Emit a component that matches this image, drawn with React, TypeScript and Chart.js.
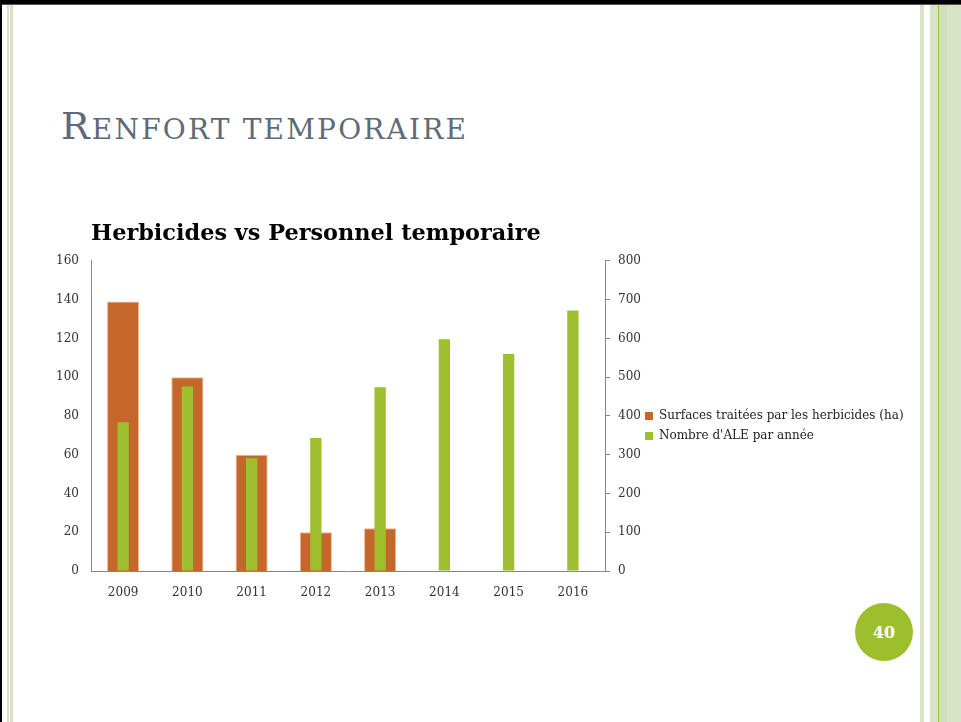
import { useEffect, useRef } from "react";
import { Chart, registerables } from "chart.js";

Chart.register(...registerables);

const categories = ["2009", "2010", "2011", "2012", "2013", "2014", "2015", "2016"];
const surfacesHa = [139, 100, 60, 20, 22, null, null, null];
const nombreAle = [384, 476, 291, 343, 474, 598, 560, 672];
const leftTickMax = 160;
const leftTickStep = 20;
const rightTickMax = 800;
const rightTickStep = 100;

const seriesLabels = ["Surfaces traitées par les herbicides (ha)", "Nombre d'ALE par année"];
const chartTitle = "Herbicides vs Personnel temporaire";

const SERIF = "'DejaVu Serif', serif";
const LEGEND_W = 272;
const LEGEND_SHIFT = 8;

const legendWidthPlugin = {
  id: "legendWidth",
  beforeLayout(chart: any) {
    const lg = chart.legend;
    if (lg && !lg._fixedW) {
      const orig = lg.fit.bind(lg);
      lg.fit = function () {
        orig();
        this.width = LEGEND_W;
      };
      lg._fixedW = true;
    }
  },
  afterLayout(chart: any) {
    const lg = chart.legend;
    if (lg) {
      lg.left -= LEGEND_SHIFT;
      lg.right -= LEGEND_SHIFT;
      lg.top += 1;
      lg.bottom += 1;
    }
  },
};

export default function App() {
  const canvasRef = useRef<HTMLCanvasElement | null>(null);

  useEffect(() => {
    if (!canvasRef.current) return;
    Chart.defaults.font.family = SERIF;
    const axisColor = "#878787";
    const chart = new Chart(canvasRef.current, {
      type: "bar",
      data: {
        labels: categories,
        datasets: [
          {
            label: seriesLabels[0],
            data: surfacesHa,
            yAxisID: "y",
            backgroundColor: "#C5662A",
            borderColor: "#EDB48A",
            borderWidth: 1,
            barPercentage: 0.5,
            categoryPercentage: 1,
            grouped: false,
            order: 2,
          } as any,
          {
            label: seriesLabels[1],
            data: nombreAle,
            yAxisID: "y1",
            backgroundColor: "#9DC02C",
            borderWidth: 0,
            barPercentage: 0.176,
            categoryPercentage: 1,
            grouped: false,
            order: 1,
          } as any,
        ],
      },
      plugins: [legendWidthPlugin as any],
      options: {
        animation: false,
        responsive: false,
        devicePixelRatio: 1,
        layout: { padding: 0 },
        plugins: {
          tooltip: { enabled: false },
          title: {
            display: true,
            text: chartTitle,
            align: "start",
            fullSize: false,
            color: "#000000",
            font: { family: SERIF, size: 22.4, weight: "bold" },
            padding: { top: 11, bottom: 13 },
          },
          legend: {
            position: "right",
            labels: {
              sort: (a: any, b: any) => a.datasetIndex - b.datasetIndex,
              boxWidth: 8,
              boxHeight: 8,
              padding: 8,
              color: "#222222",
              font: { family: SERIF, size: 12 },
              generateLabels: (c: any) =>
                c.data.datasets.map((ds: any, i: number) => ({
                  text: ds.label,
                  fillStyle: ds.backgroundColor,
                  strokeStyle: ds.backgroundColor,
                  lineWidth: 0,
                  hidden: false,
                  datasetIndex: i,
                  fontColor: "#222222",
                })),
            },
          },
        },
        scales: {
          x: {
            grid: { display: false },
            border: { display: true, color: axisColor, width: 1 },
            ticks: { color: "#333333", font: { family: SERIF, size: 12 }, padding: 7 },
            afterFit: (s: any) => {
              s.height = 69;
            },
          },
          y: {
            position: "left",
            min: 0,
            max: leftTickMax,
            grid: { display: false },
            border: { display: true, color: axisColor, width: 1 },
            ticks: { stepSize: leftTickStep, color: "#333333", font: { family: SERIF, size: 12 }, padding: 4 },
            afterFit: (s: any) => {
              s.width = 51;
            },
          },
          y1: {
            position: "right",
            min: 0,
            max: rightTickMax,
            grid: { display: true, drawOnChartArea: false, color: axisColor, tickLength: 5 },
            border: { display: true, color: axisColor, width: 1 },
            ticks: { stepSize: rightTickStep, color: "#333333", font: { family: SERIF, size: 12 }, padding: 8 },
            afterFit: (s: any) => {
              s.width = 40;
            },
          },
        },
      },
    });
    return () => chart.destroy();
  }, []);

  return (
    <div
      style={{
        position: "absolute",
        left: 0,
        top: 0,
        width: 961,
        height: 722,
        overflow: "hidden",
        background: "#ffffff",
      }}
    >
      {/* borders */}
      <div style={{ position: "absolute", left: 0, top: 0, width: 961, height: 4, background: "#000" }} />
      <div style={{ position: "absolute", left: 0, top: 4, width: 961, height: 1, background: "#555" }} />
      <div style={{ position: "absolute", left: 0, top: 0, width: 2, height: 722, background: "#000" }} />
      {/* left stripes */}
      <div style={{ position: "absolute", left: 7, top: 5, width: 2, height: 717, background: "#D6E4C6" }} />
      <div style={{ position: "absolute", left: 10, top: 5, width: 3, height: 717, background: "#D6E4C6" }} />
      {/* right stripes */}
      <div style={{ position: "absolute", left: 920, top: 5, width: 4, height: 717, background: "#D6E4C6" }} />
      <div style={{ position: "absolute", left: 930, top: 5, width: 31, height: 717, background: "#D6E3C6" }} />
      <div style={{ position: "absolute", left: 938, top: 5, width: 1, height: 717, background: "#9DC12F" }} />
      <div style={{ position: "absolute", left: 939, top: 5, width: 8, height: 717, background: "#CFDEBC" }} />
      {/* slide title */}
      <div
        style={{
          position: "absolute",
          left: 61,
          top: 104,
          fontFamily: SERIF,
          lineHeight: "44px",
          color: "#5E6B76",
          whiteSpace: "nowrap",
          letterSpacing: "2.2px",
        }}
      >
        <span style={{ fontSize: 38 }}>R</span>
        <span style={{ fontSize: 28 }}>ENFORT TEMPORAIRE</span>
      </div>
      <canvas
        ref={canvasRef}
        width={877}
        height={430}
        style={{ position: "absolute", left: 40, top: 210, width: 877, height: 430 }}
      />
      {/* page number */}
      <div
        style={{
          position: "absolute",
          left: 855,
          top: 603,
          width: 58,
          height: 58,
          borderRadius: "50%",
          background: "#9DBF2E",
          color: "#fff",
          fontFamily: SERIF,
          fontWeight: "bold",
          fontSize: 16,
          display: "flex",
          alignItems: "center",
          justifyContent: "center",
        }}
      >
        40
      </div>
    </div>
  );
}
